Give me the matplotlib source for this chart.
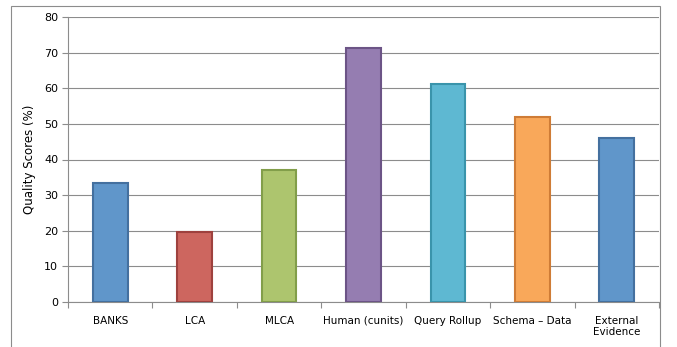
import numpy as np
import matplotlib
matplotlib.use('Agg')
import matplotlib.pyplot as plt
from matplotlib.patches import Rectangle

# Chart data
categories = ['BANKS', 'LCA', 'MLCA', 'Human (cunits)', 'Query Rollup',
              'Schema \u2013 Data', 'External\nEvidence']
scores = [33.3, 19.6, 37.0, 71.4, 61.3, 52.0, 45.9]
fill_colors = ['#6096CA', '#CD665F', '#ADC56E', '#957DB1', '#5EB8D2', '#F9A85A', '#6096CA']
edge_colors = ['#44709F', '#9E413E', '#829E4A', '#6C5486', '#3A94AB', '#CF7C36', '#44709F']

fig = plt.figure(figsize=(6.77, 3.47), dpi=100)
# outer chart frame
fig.patches.append(Rectangle((11 / 677, -0.01), 649 / 677, 1 - 6 / 347 + 0.01,
                             transform=fig.transFigure, fill=False,
                             edgecolor='#8C8C8C', linewidth=0.8))

ax = fig.add_axes([68 / 677, 1 - 302 / 347, 591 / 677, 285 / 347])
x = np.arange(len(categories))
ax.bar(x, scores, width=0.41, color=fill_colors, edgecolor=edge_colors,
       linewidth=1.5, zorder=3)

ax.set_xlim(-0.5, len(categories) - 0.5)
ax.set_ylim(0, 80)
ax.set_yticks(range(0, 81, 10))
ax.set_xticks(x)
ax.set_xticklabels(categories, fontsize=7.5, linespacing=1.1)
ax.set_xticks(np.arange(-0.5, len(categories), 1), minor=True)
ax.tick_params(axis='x', which='major', length=0, pad=10)
ax.tick_params(axis='x', which='minor', length=4, color='#8C8C8C', width=0.8)
ax.tick_params(axis='y', labelsize=8, length=4, color='#8C8C8C', width=0.8, pad=3)
ax.yaxis.grid(True, color='#8C8C8C', linewidth=0.8, zorder=0)
ax.set_ylabel('Quality Scores (%)', fontsize=8.5, labelpad=6)

for s in ['top', 'right']:
    ax.spines[s].set_visible(False)
for s in ['left', 'bottom']:
    ax.spines[s].set_color('#8C8C8C')
    ax.spines[s].set_linewidth(0.8)

fig.savefig('out.png', dpi=100)
